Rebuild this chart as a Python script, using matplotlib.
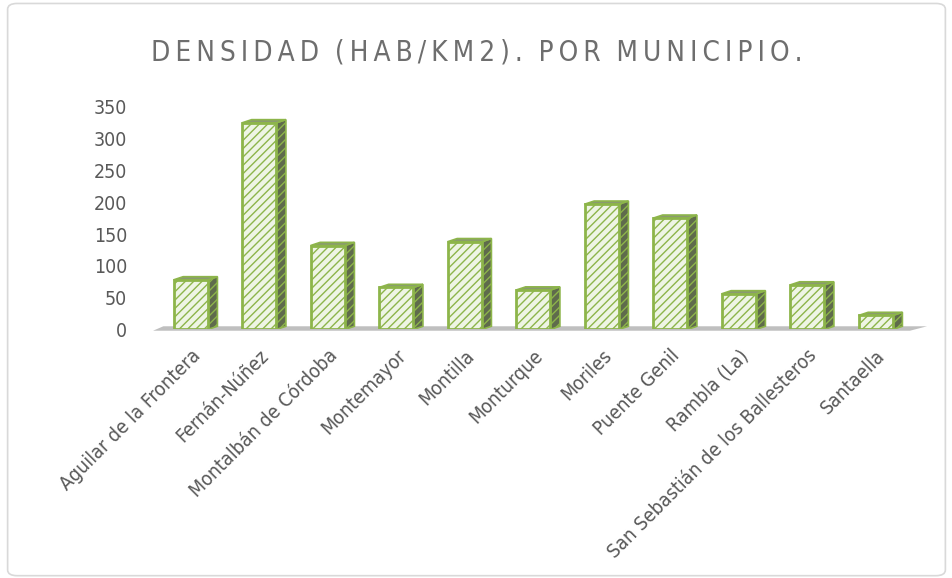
import matplotlib.pyplot as plt
from matplotlib.patches import Polygon, FancyBboxPatch

# Datos
municipios = ['Aguilar de la Frontera', 'Fernán-Núñez', 'Montalbán de Córdoba',
              'Montemayor', 'Montilla', 'Monturque', 'Moriles', 'Puente Genil',
              'Rambla (La)', 'San Sebastián de los Ballesteros', 'Santaella']
densidad = [78, 325, 132, 66, 138, 62, 197, 175, 56, 70, 22]
yticks = [0, 50, 100, 150, 200, 250, 300, 350]
titulo = 'DENSIDAD (HAB/KM2). POR MUNICIPIO.'

plt.rcParams['font.family'] = ['DejaVu Sans']
plt.rcParams['font.stretch'] = 'condensed'
plt.rcParams['hatch.linewidth'] = 1.0
gris = '#595959'
verde = '#8DB54A'

fig = plt.figure(figsize=(9.53, 5.78), dpi=100)
ax = fig.add_axes([0.157, 0.43, 0.805, 0.385])

# marco del grafico
fig.patches.append(FancyBboxPatch((0.008, 0.004), 0.984, 0.99, boxstyle='round,pad=0,rounding_size=0.01',
                                  transform=fig.transFigure, fill=False, edgecolor='#d9d9d9', lw=1.2))

x = list(range(len(municipios)))
w = 0.5
dx, dy = 0.14, 5

# suelo gris
ax.add_patch(Polygon([(-0.55, -2), (10.5, -2), (10.75, 5), (-0.4, 5)],
                     closed=True, facecolor='#bfbfbf', edgecolor='none', zorder=0, clip_on=False))

# caras laterales y superiores
for xi, v in zip(x, densidad):
    side = Polygon([(xi + w / 2, 0), (xi + w / 2 + dx, dy), (xi + w / 2 + dx, v + dy), (xi + w / 2, v)],
                   closed=True, facecolor='#5f6b4c', edgecolor=verde, hatch='////', lw=1.2, zorder=2)
    top = Polygon([(xi - w / 2, v), (xi - w / 2 + dx, v + dy), (xi + w / 2 + dx, v + dy), (xi + w / 2, v)],
                  closed=True, facecolor='#8a9a70', edgecolor=verde, lw=1.2, zorder=2, clip_on=False)
    ax.add_patch(side)
    ax.add_patch(top)

# caras frontales
ax.bar(x, densidad, width=w, color='#eef5e4', edgecolor=verde, hatch='////', lw=2, zorder=3)

ax.set_xlim(-0.6, 10.6)
ax.set_ylim(0, 350)
ax.set_yticks(yticks)
ax.set_xticks(x)
ax.set_xticklabels(municipios, rotation=45, ha='right', rotation_mode='anchor')
ax.tick_params(axis='both', length=0, colors=gris, labelsize=14)
ax.tick_params(axis='x', pad=12)
ax.tick_params(axis='y', pad=16)
for s in ax.spines.values():
    s.set_visible(False)

# titulo con espaciado entre letras
espaciado = '  '.join('\u2009'.join(p) for p in titulo.split(' '))
fig.text(0.5, 0.91, espaciado, ha='center', va='center', fontsize=20, color='#6e6e6e')

fig.savefig('out.png', dpi=100)
